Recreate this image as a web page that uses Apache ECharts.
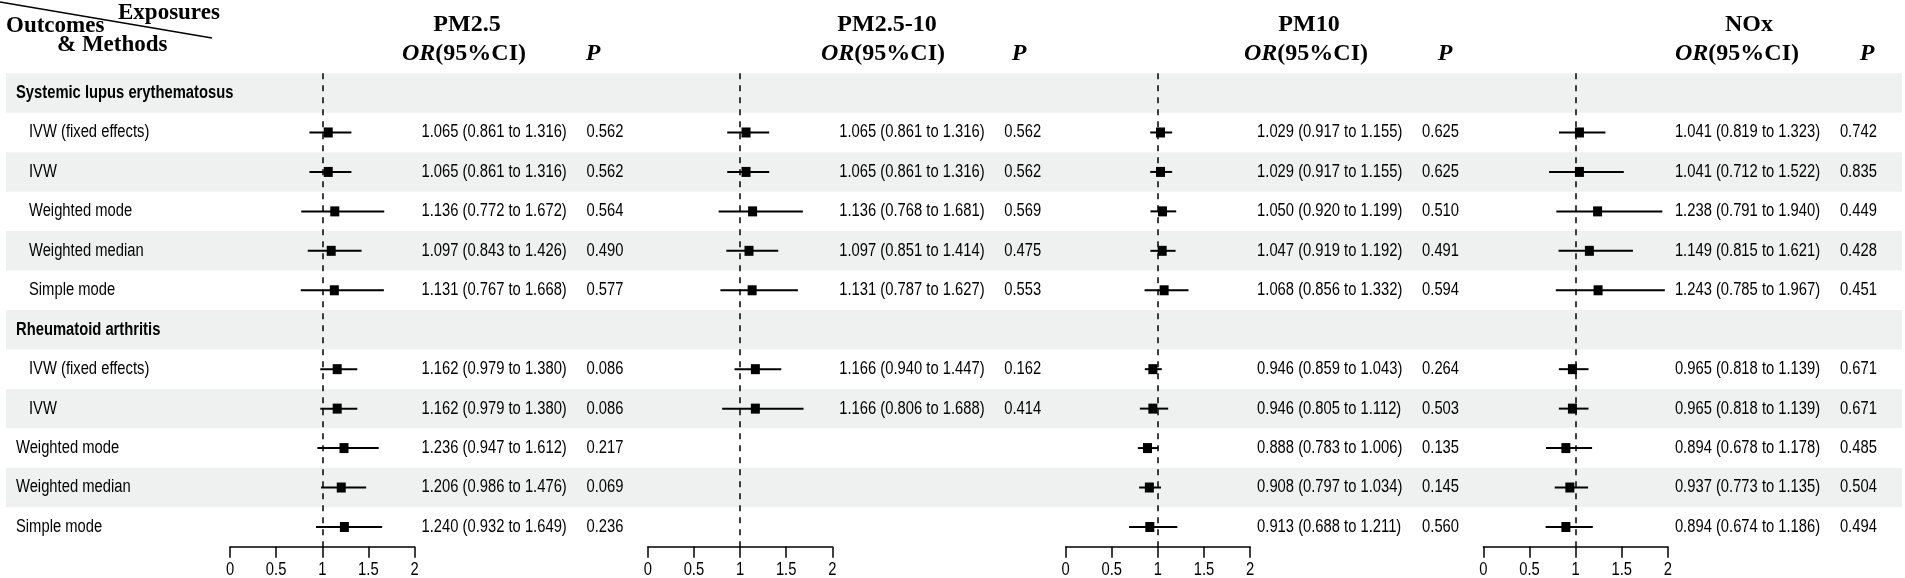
<!DOCTYPE html>
<html>
<head>
<meta charset="utf-8">
<script src="https://cdn.jsdelivr.net/npm/echarts@6/dist/echarts.min.js"></script>
<style>
  html, body { margin: 0; background: #fff; }
  #main { width: 1905px; height: 578px; }
</style>
</head>
<body>
<div id="main"></div>
<script>
const exposures = ['PM2.5', 'PM2.5-10', 'PM10', 'NOx']
const outcomes = ['Systemic lupus erythematosus', 'Rheumatoid arthritis']
const methods = ['IVW (fixed effects)', 'IVW', 'Weighted mode', 'Weighted median', 'Simple mode']
const axisTicks = [0, 0.5, 1, 1.5, 2]

// each array: 5 SLE methods, then 5 RA methods (null = not reported)
const pm25Or = [1.065, 1.065, 1.136, 1.097, 1.131, 1.162, 1.162, 1.236, 1.206, 1.240]
const pm25Lo = [0.861, 0.861, 0.772, 0.843, 0.767, 0.979, 0.979, 0.947, 0.986, 0.932]
const pm25Hi = [1.316, 1.316, 1.672, 1.426, 1.668, 1.380, 1.380, 1.612, 1.476, 1.649]
const pm25P = [0.562, 0.562, 0.564, 0.490, 0.577, 0.086, 0.086, 0.217, 0.069, 0.236]

const pm2510Or = [1.065, 1.065, 1.136, 1.097, 1.131, 1.166, 1.166, null, null, null]
const pm2510Lo = [0.861, 0.861, 0.768, 0.851, 0.787, 0.940, 0.806, null, null, null]
const pm2510Hi = [1.316, 1.316, 1.681, 1.414, 1.627, 1.447, 1.688, null, null, null]
const pm2510P = [0.562, 0.562, 0.569, 0.475, 0.553, 0.162, 0.414, null, null, null]

const pm10Or = [1.029, 1.029, 1.050, 1.047, 1.068, 0.946, 0.946, 0.888, 0.908, 0.913]
const pm10Lo = [0.917, 0.917, 0.920, 0.919, 0.856, 0.859, 0.805, 0.783, 0.797, 0.688]
const pm10Hi = [1.155, 1.155, 1.199, 1.192, 1.332, 1.043, 1.112, 1.006, 1.034, 1.211]
const pm10P = [0.625, 0.625, 0.510, 0.491, 0.594, 0.264, 0.503, 0.135, 0.145, 0.560]

const noxOr = [1.041, 1.041, 1.238, 1.149, 1.243, 0.965, 0.965, 0.894, 0.937, 0.894]
const noxLo = [0.819, 0.712, 0.791, 0.815, 0.785, 0.818, 0.818, 0.678, 0.773, 0.674]
const noxHi = [1.323, 1.522, 1.940, 1.621, 1.967, 1.139, 1.139, 1.178, 1.135, 1.186]
const noxP = [0.742, 0.835, 0.449, 0.428, 0.451, 0.671, 0.671, 0.485, 0.504, 0.494]

const panels = [
  { or: pm25Or, lo: pm25Lo, hi: pm25Hi, p: pm25P },
  { or: pm2510Or, lo: pm2510Lo, hi: pm2510Hi, p: pm2510P },
  { or: pm10Or, lo: pm10Lo, hi: pm10Hi, p: pm10P },
  { or: noxOr, lo: noxLo, hi: noxHi, p: noxP }
]

// table rows: outcome header followed by its methods
const rows = []
outcomes.forEach((o, oi) => {
  rows.push({ name: o, header: true })
  // in the source table the last three RA methods are not indented
  methods.forEach((m, mi) => rows.push({ name: m, indent: oi === 0 || mi < 2 }))
})
const rowOf = j => j < methods.length ? j + 1 : j + 2

// no narrow font installed, so Arial-metric text is squeezed horizontally
const SANS = "'Liberation Sans', Arial, sans-serif"
const SQUEEZE = 0.82
const SERIF = "'Liberation Serif', 'Times New Roman', serif"
const TOP = 73.3
const ROWH = 39.45
const AX0 = 230
const AXW = 184.5
const STEP = 417.8
const titleX = [467, 887, 1309, 1749]
const headX = [464, 883, 1306, 1737]
const pHeadX = [593, 1019, 1445, 1867]

const f3 = v => v.toFixed(3)
const cellText = (x, y, text, bold, align) => ({
  type: 'text', x, y, scaleX: SQUEEZE,
  style: { text, fill: '#000', fontFamily: SANS, fontSize: 18, fontWeight: bold ? 'bold' : 'normal', align: align || 'left', verticalAlign: 'middle' }
})

const grid = [{ left: 6, right: 3, top: TOP, height: ROWH * rows.length, outerBoundsMode: 'none' }]
const xAxis = [{ gridIndex: 0, type: 'value', min: 0, max: 1, show: false }]
const yAxis = [{ gridIndex: 0, type: 'category', data: rows.map(r => r.name), inverse: true, show: false }]
const series = [{
  type: 'bar',
  xAxisIndex: 0,
  yAxisIndex: 0,
  silent: true,
  barCategoryGap: '0%',
  itemStyle: { color: '#eff1f0' },
  data: rows.map((r, i) => i % 2 === 0 ? 1 : 0),
  z: 0
}, {
  // row labels
  type: 'custom',
  xAxisIndex: 0,
  yAxisIndex: 0,
  silent: true,
  data: rows.map((r, i) => [0, i]),
  z: 2,
  renderItem: (params, api) => {
    const r = rows[params.dataIndex]
    const p = api.coord([api.value(0), api.value(1)])
    return cellText(p[0] + 10 + (r.indent ? 13 : 0), p[1], r.name, r.header)
  }
}]

panels.forEach((pn, k) => {
  const g = k + 1
  grid.push({ left: AX0 + STEP * k, width: AXW, top: TOP, height: ROWH * rows.length, outerBoundsMode: 'none' })
  xAxis.push({
    gridIndex: g,
    type: 'value',
    min: axisTicks[0],
    max: axisTicks[axisTicks.length - 1],
    interval: axisTicks[1] - axisTicks[0],
    axisLine: { show: true, lineStyle: { color: '#000', width: 1.5 } },
    axisTick: { show: true, length: 11, lineStyle: { color: '#000', width: 1.5 } },
    axisLabel: { show: false },
    splitLine: { show: false }
  })
  yAxis.push({
    gridIndex: g,
    type: 'category',
    data: rows.map(r => r.name),
    inverse: true,
    show: false
  })
  const items = []
  pn.or.forEach((v, j) => {
    if (v != null) items.push([rowOf(j), v, pn.lo[j], pn.hi[j], j])
  })
  series.push({
    type: 'custom',
    xAxisIndex: g,
    yAxisIndex: g,
    data: items,
    z: 3,
    renderItem: (params, api) => {
      const row = api.value(0)
      const j = api.value(4)
      const c = api.coord([api.value(1), row])
      const l = api.coord([api.value(2), row])
      const h = api.coord([api.value(3), row])
      const xEnd = api.coord([2, row])[0]
      const txt = f3(pn.or[j]) + ' (' + f3(pn.lo[j]) + ' to ' + f3(pn.hi[j]) + ')'
      return {
        type: 'group',
        children: [
          { type: 'line', shape: { x1: l[0], y1: c[1], x2: h[0], y2: c[1] }, style: { stroke: '#000', lineWidth: 2 } },
          { type: 'rect', shape: { x: c[0] - 4.5, y: c[1] - 5, width: 9, height: 10 }, style: { fill: '#000' } },
          cellText(xEnd + 7, c[1], txt),
          cellText(xEnd + 172, c[1], f3(pn.p[j]))
        ]
      }
    },
    markLine: {
      silent: true,
      symbol: ['none', 'none'],
      label: { show: false },
      lineStyle: { type: [6, 6], color: '#000', width: 1.5 },
      data: [{ xAxis: 1 }]
    }
  })
  // tick labels, squeezed like the table text
  series.push({
    type: 'custom',
    xAxisIndex: g,
    yAxisIndex: g,
    silent: true,
    data: axisTicks.map(t => [t, rows.length - 1]),
    renderItem: (params, api) => {
      const p = api.coord([api.value(0), api.value(1)])
      return cellText(p[0], p[1] + ROWH / 2 + 23, String(api.value(0)), false, 'center')
    }
  })
})

const graphic = [
  { type: 'line', shape: { x1: 0, y1: 2, x2: 212, y2: 38 }, style: { stroke: '#000', lineWidth: 1.5 } },
  { type: 'text', x: 118, y: 13, style: { text: 'Exposures', font: 'bold 23px ' + SERIF, fill: '#000', align: 'left', verticalAlign: 'middle' } },
  { type: 'text', x: 6, y: 26, style: { text: 'Outcomes', font: 'bold 23px ' + SERIF, fill: '#000', align: 'left', verticalAlign: 'middle' } },
  { type: 'text', x: 57, y: 45, style: { text: '& Methods', font: 'bold 23px ' + SERIF, fill: '#000', align: 'left', verticalAlign: 'middle' } }
]
exposures.forEach((e, k) => {
  graphic.push({ type: 'text', x: titleX[k], y: 25, style: { text: e, font: 'bold 24px ' + SERIF, fill: '#000', align: 'center', verticalAlign: 'middle' } })
  graphic.push({
    type: 'text', x: headX[k], y: 54,
    style: {
      text: '{i|OR}{b|(95%CI)}', align: 'center', verticalAlign: 'middle',
      rich: {
        i: { fontFamily: SERIF, fontSize: 24, fontWeight: 'bold', fontStyle: 'italic', fill: '#000' },
        b: { fontFamily: SERIF, fontSize: 24, fontWeight: 'bold', fill: '#000' }
      }
    }
  })
  graphic.push({ type: 'text', x: pHeadX[k], y: 54, style: { text: 'P', font: 'italic bold 24px ' + SERIF, fill: '#000', align: 'center', verticalAlign: 'middle' } })
})

const myChart = echarts.init(document.getElementById('main'))
myChart.setOption({
  animation: false,
  backgroundColor: '#fff',
  grid,
  xAxis,
  yAxis,
  series,
  graphic
})
</script>
</body>
</html>
